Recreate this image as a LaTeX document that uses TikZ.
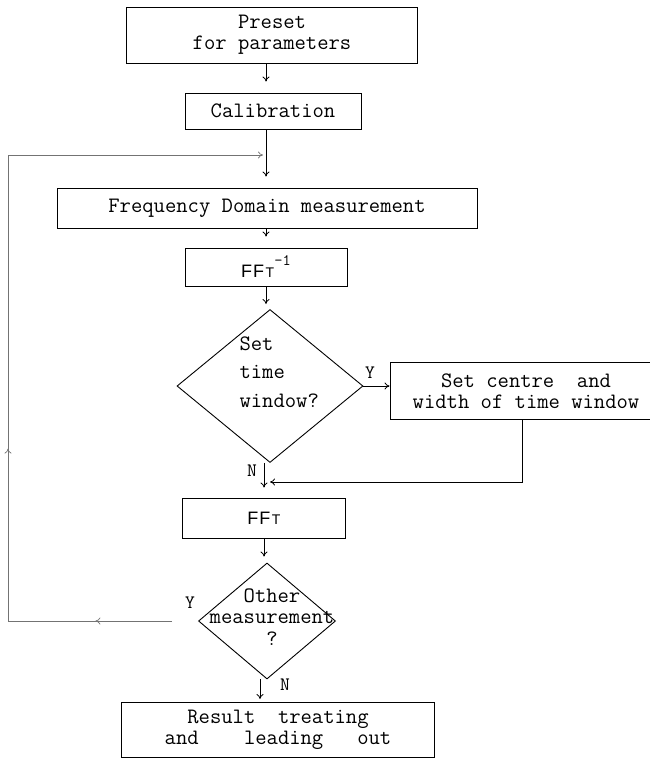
\documentclass[tikz,border=0pt]{standalone}
\usepackage{fontspec}
\newfontfamily\fftfont{Liberation Sans}
\usetikzlibrary{shapes.geometric}
\usetikzlibrary{arrows.meta}
\usetikzlibrary{decorations.markings}

\newcommand{\fftsym}{{\fftfont\fontsize{18}{18}\selectfont F\kern1pt F\kern1.5pt{\fontsize{14}{14}\selectfont T}}}

\begin{document}
\begin{tikzpicture}[x=1pt, y=-1pt,
    font=\ttfamily\fontsize{22}{21}\selectfont,
    box/.style={draw, line width=0.9pt, inner sep=0pt, align=center},
    decision/.style={draw, diamond, line width=0.9pt, inner sep=0pt},
    flow/.style={-{To[length=5pt,width=7pt]}, line width=0.8pt},
    loopline/.style={line width=0.7pt, black!55},
    midarrow/.style={postaction={decorate}, decoration={markings,
        mark=at position #1 with {\arrow{To[length=5pt,width=7pt]}}}}]
    \useasboundingbox (0,0) rectangle (650,763);

    \node[box, minimum width=291pt, minimum height=56pt] (preset) at (272,35) {Preset\\for parameters};
    \node[box, minimum width=176pt, minimum height=36pt] (calib) at (273,111) {Calibration};
    \node[box, minimum width=420pt, minimum height=40pt] (freq) at (267,208) {Frequency Domain measurement};
    \node[box, minimum width=162pt, minimum height=38pt] (ifft) at (266,267) {\fftsym\raisebox{12pt}{\fontsize{16}{16}\selectfont -1}};
    \node[decision, minimum width=186pt, minimum height=153pt] (window) at (270,386) {};
    \node[align=left, anchor=west, font=\ttfamily\fontsize{22}{28.5}\selectfont] (windowtext) at (236,372) {Set\\time\\window?};
    \node[box, minimum width=272pt, minimum height=57pt] (centre) at (526,391) {Set centre~~and\\width of time window};
    \node[box, minimum width=163pt, minimum height=40pt] (fft) at (264,518) {\fftsym};
    \node[decision, minimum width=137pt, minimum height=116pt] (other) at (267,621) {};
    \node[align=center, font=\ttfamily\fontsize{22}{21.5}\selectfont] (othertext) at (272,617) {Other\\measurement\\?};
    \node[box, minimum width=313pt, minimum height=55pt] (result) at (278,730) {Result~~treating\\and~~~~leading~~~out};

    \node[font=\ttfamily\fontsize{19}{19}\selectfont] (ywindow) at (370,373) {Y};
    \node[font=\ttfamily\fontsize{19}{19}\selectfont] (nwindow) at (252,471) {N};
    \node[font=\ttfamily\fontsize{19}{19}\selectfont] (yother) at (190,603) {Y};
    \node[font=\ttfamily\fontsize{19}{19}\selectfont] (nother) at (285,685) {N};

    \coordinate (merge) at (264,482);
    \coordinate (loopbottom) at (8,621);
    \coordinate (looptop) at (8,155);
    \coordinate (loopjoin) at (266,155);

    \draw[flow, shorten >=11pt] (preset.south -| ifft) -- (calib.north -| ifft);
    \draw[flow, shorten >=11pt] (calib.south -| ifft) -- (freq.north -| ifft);
    \draw[flow, shorten >=11pt] (freq.south -| ifft) -- (ifft.north);
    \draw[flow, shorten >=5pt] (ifft.south) -- (window.north -| ifft);
    \draw[flow] (window.east) -- (window.east -| centre.west);
    \draw[flow, shorten >=10pt] (window.south -| fft) -- (fft.north);
    \draw[flow, shorten >=6pt] ([xshift=-4pt]centre.south) |- (merge);
    \draw[flow, shorten >=6pt] (fft.south) -- (other.north -| fft);
    \draw[flow, shorten >=3pt] ([xshift=-7pt]other.south) -- ([xshift=-7pt]other.south |- result.north);

    \draw[loopline, midarrow=0.54, shorten <=26pt] (other.west) -- (loopbottom);
    \draw[loopline, midarrow=0.37] (loopbottom) -- (looptop);
    \draw[loopline, flow, line width=0.7pt, shorten >=3pt] (looptop) -- (loopjoin);
\end{tikzpicture}
\end{document}
